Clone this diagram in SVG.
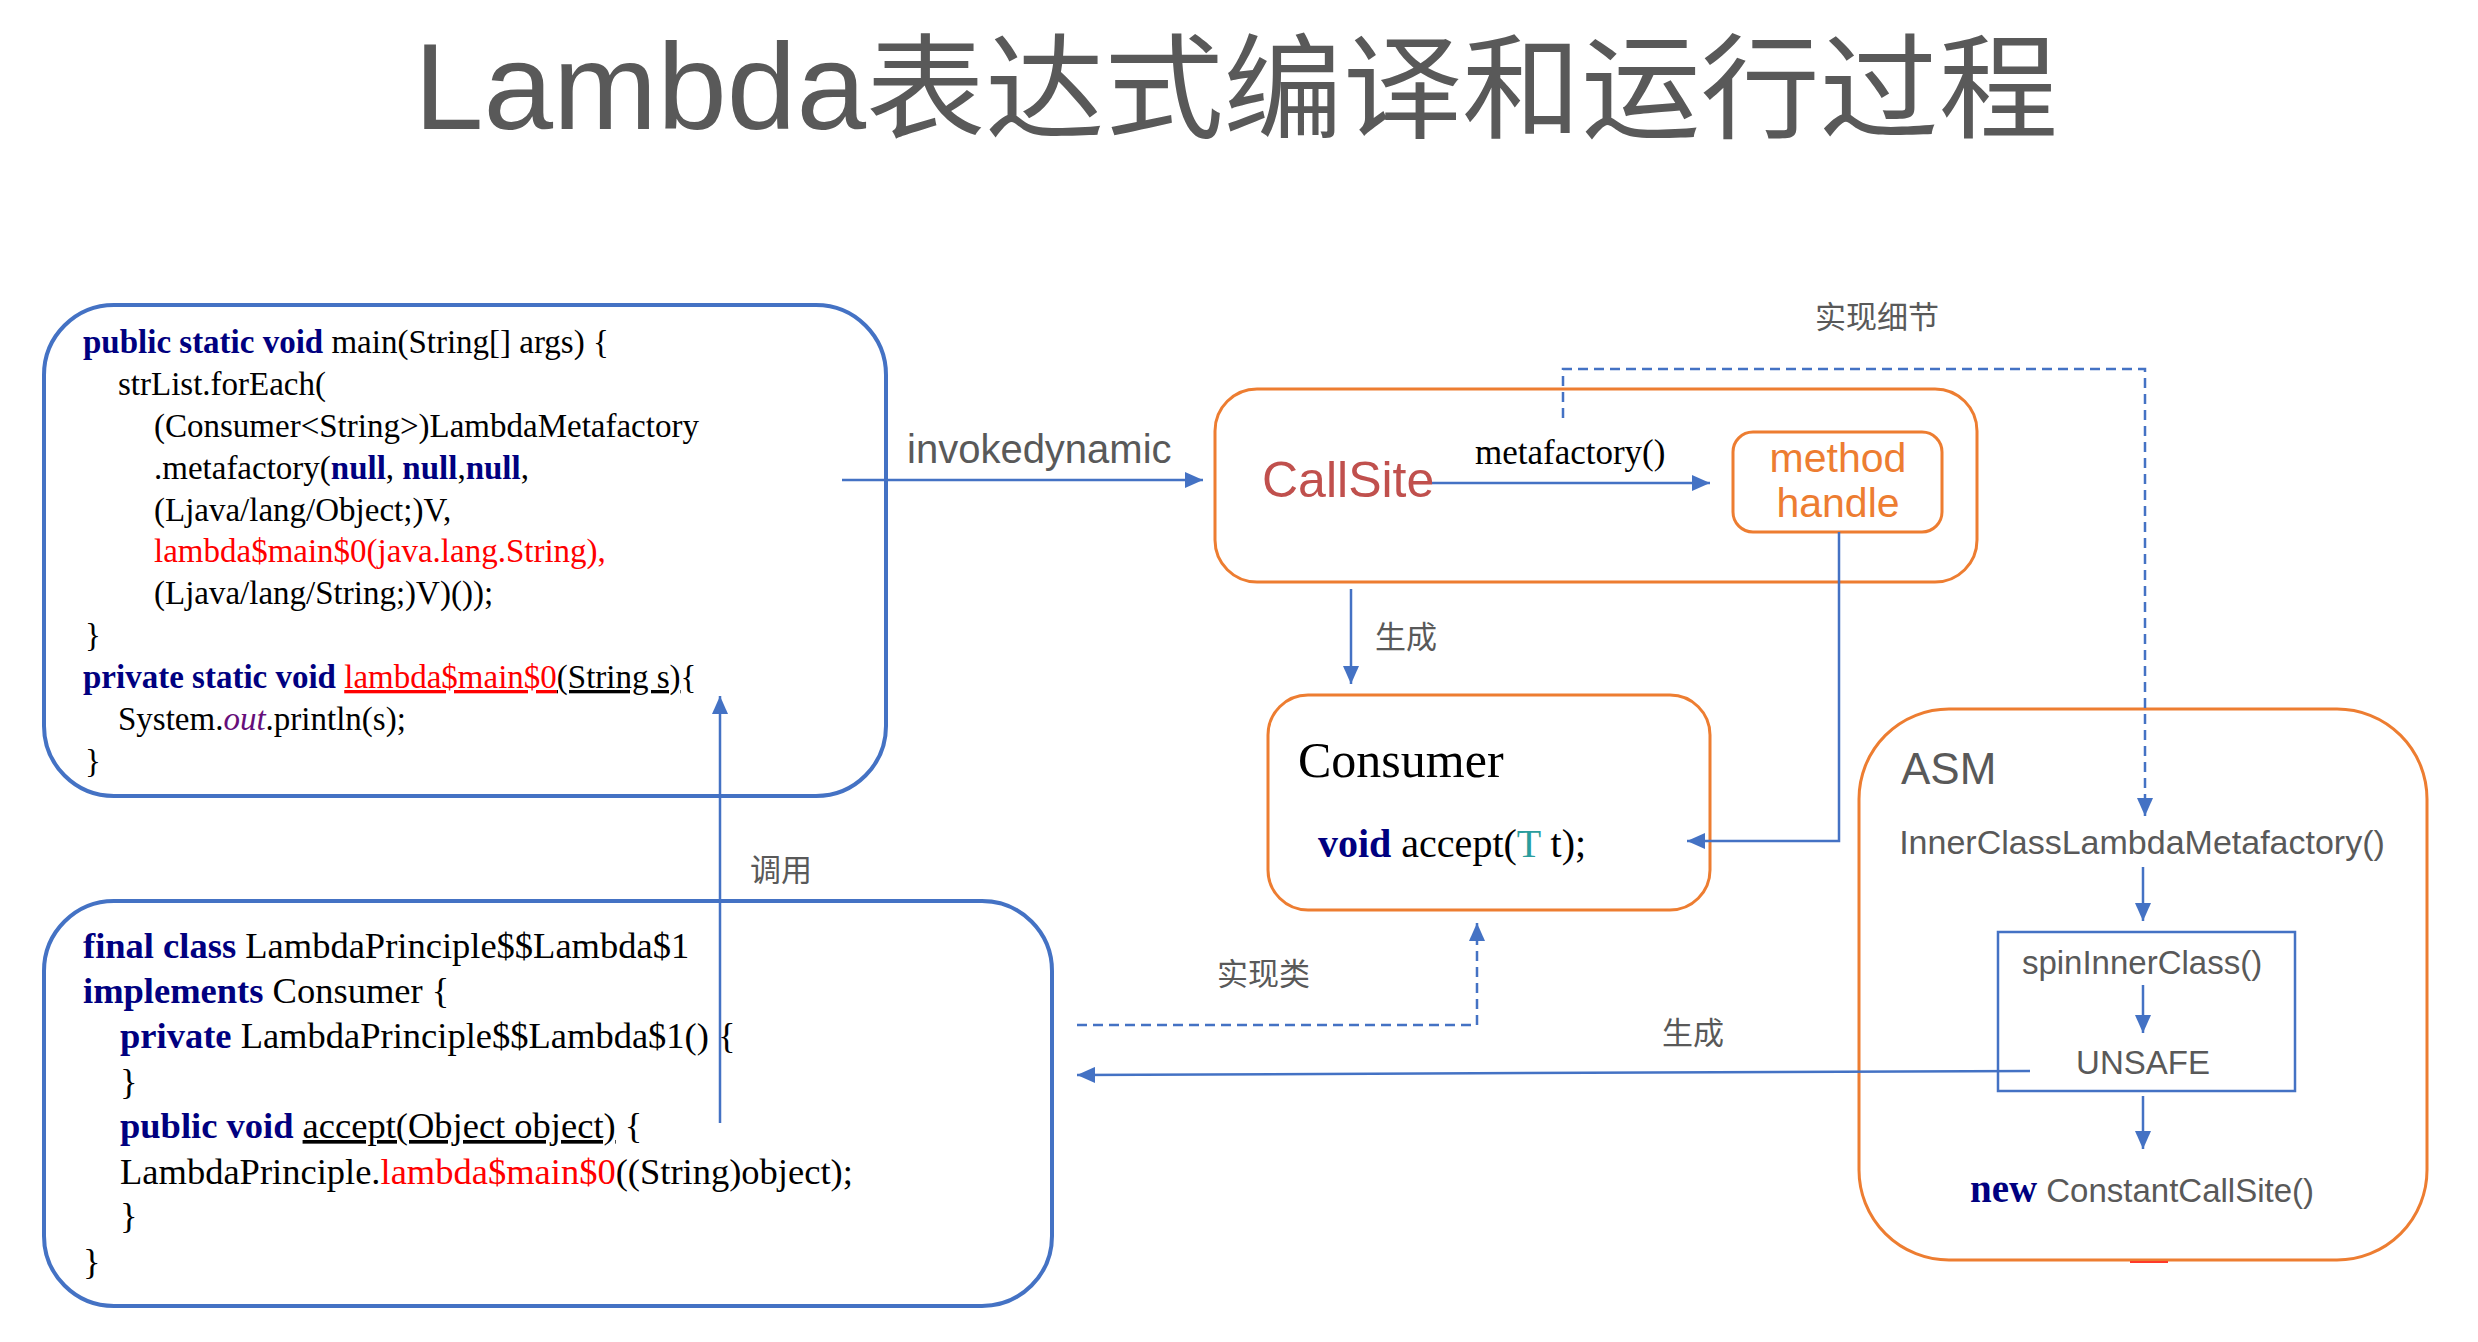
<svg xmlns="http://www.w3.org/2000/svg" width="2478" height="1342" viewBox="0 0 2478 1342">
<defs>
<marker id="arr" viewBox="0 0 18 16" refX="18" refY="8" markerWidth="18" markerHeight="16" markerUnits="userSpaceOnUse" orient="auto">
<path d="M0,0 L18,8 L0,16 z" fill="#4472C4"/>
</marker>
<style>
.bg{fill:#fff}
.code1{font-family:"Liberation Serif","Times New Roman",serif;font-size:33px;fill:#000}
.code2{font-family:"Liberation Serif","Times New Roman",serif;font-size:36.5px;fill:#000}
.kw{fill:#000080;font-weight:bold}
.red{fill:#FF0000}
.sans{font-family:"Liberation Sans",Arial,"Noto Sans CJK SC",sans-serif}
.lbl{font-family:"Noto Sans CJK SC","Liberation Sans",sans-serif;font-size:31px;fill:#595959}
.gray{fill:#595959}
.bluebox{fill:none;stroke:#4472C4;stroke-width:4}
.orbox{fill:none;stroke:#ED7D31;stroke-width:3}
.conn{fill:none;stroke:#4472C4;stroke-width:2.5}
.dash{stroke-dasharray:10 6}
</style>
</defs>
<rect class="bg" width="2478" height="1342"/>

<text y="129" font-family="'Liberation Sans','Noto Sans CJK SC',sans-serif" fill="#595959"><tspan x="414" font-size="122" textLength="452" lengthAdjust="spacingAndGlyphs">Lambda</tspan><tspan x="866" font-family="'Noto Sans CJK SC',sans-serif" font-size="114" textLength="1192" lengthAdjust="spacingAndGlyphs">表达式编译和运行过程</tspan></text>

<g id="main-code">
<rect class="bluebox" x="44" y="305" width="842" height="491" rx="70" ry="70"/>
<text class="code1" x="83" y="353"><tspan class="kw">public static void</tspan> main(String[] args) {</text>
<text class="code1" x="118" y="395">strList.forEach(</text>
<text class="code1" x="154" y="437">(Consumer&lt;String&gt;)LambdaMetafactory</text>
<text class="code1" x="154" y="479">.metafactory(<tspan class="kw">null</tspan>, <tspan class="kw">null</tspan>,<tspan class="kw">null</tspan>,</text>
<text class="code1" x="154" y="521">(Ljava/lang/Object;)V,</text>
<text class="code1 red" x="154" y="562">lambda$main$0(java.lang.String),</text>
<text class="code1" x="154" y="604">(Ljava/lang/String;)V)());</text>
<text class="code1" x="85" y="646">}</text>
<text class="code1" x="83" y="688"><tspan class="kw">private static void</tspan> <tspan class="red" text-decoration="underline">lambda$main$0</tspan><tspan text-decoration="underline">(String s)</tspan>{</text>
<text class="code1" x="118" y="730">System.<tspan fill="#660E7A" font-style="italic">out</tspan>.println(s);</text>
<text class="code1" x="85" y="772">}</text>
</g>

<g id="lambda-class">
<rect class="bluebox" x="44" y="901" width="1008" height="405" rx="70" ry="70"/>
<text class="code2" x="83" y="958"><tspan class="kw">final class</tspan> LambdaPrinciple$$Lambda$1</text>
<text class="code2" x="83" y="1003"><tspan class="kw">implements</tspan> Consumer {</text>
<text class="code2" x="120" y="1048"><tspan class="kw">private</tspan> LambdaPrinciple$$Lambda$1() {</text>
<text class="code2" x="120" y="1094">}</text>
<text class="code2" x="120" y="1138"><tspan class="kw">public void</tspan> <tspan text-decoration="underline">accept(Object object)</tspan> {</text>
<text class="code2" x="120" y="1184">LambdaPrinciple.<tspan class="red">lambda$main$0</tspan>((String)object);</text>
<text class="code2" x="120" y="1228">}</text>
<text class="code2" x="83" y="1274">}</text>
</g>

<g id="callsite">
<rect class="orbox" x="1215" y="389" width="762" height="193" rx="42" ry="42"/>
<text class="sans" x="1262" y="497" font-size="50" fill="#C0504D">CallSite</text>
<text x="1475" y="464" font-family="'Liberation Serif',serif" font-size="35" fill="#000">metafactory()</text>
</g>

<g id="method-handle">
<rect class="orbox" x="1733" y="432" width="209" height="100" rx="20" ry="20"/>
<text class="sans" x="1838" y="472" font-size="41" fill="#ED7D31" text-anchor="middle">method</text>
<text class="sans" x="1838" y="517" font-size="41" fill="#ED7D31" text-anchor="middle">handle</text>
</g>

<g id="consumer">
<rect class="orbox" x="1268" y="695" width="442" height="215" rx="40" ry="40"/>
<text x="1298" y="777" font-family="'Liberation Serif',serif" font-size="50" fill="#000">Consumer</text>
<text x="1318" y="857" font-family="'Liberation Serif',serif" font-size="40" fill="#000"><tspan class="kw">void</tspan> accept(<tspan fill="#2A9D9D">T</tspan> t);</text>
</g>

<g id="asm">
<rect class="orbox" x="1859" y="709" width="568" height="551" rx="90" ry="90"/>
<path d="M2130,1262 L2168,1262" stroke="#FF3A2A" stroke-width="2"/>
<text class="sans gray" x="1901" y="784" font-size="44">ASM</text>
<text class="sans gray" x="2142" y="854" font-size="34" text-anchor="middle">InnerClassLambdaMetafactory()</text>
<text class="sans gray" x="2142" y="1202" font-size="33" text-anchor="middle"><tspan font-family="'Liberation Serif',serif" font-weight="bold" fill="#000080" font-size="39">new</tspan> ConstantCallSite()</text>
</g>

<g id="spin-inner-class">
<rect x="1998" y="932" width="297" height="159" fill="none" stroke="#4472C4" stroke-width="2.5"/>
<text class="sans gray" x="2142" y="974" font-size="33" text-anchor="middle">spinInnerClass()</text>
<text class="sans gray" x="2143" y="1074" font-size="33" text-anchor="middle">UNSAFE</text>
</g>

<g id="connectors">
<line class="conn" x1="842" y1="480" x2="1203" y2="480" marker-end="url(#arr)"/>
<text class="sans gray" x="907" y="463" font-size="40">invokedynamic</text>
<line class="conn" x1="1432" y1="483" x2="1710" y2="483" marker-end="url(#arr)"/>
<polyline class="conn dash" points="1563,418 1563,369 2145,369 2145,816" marker-end="url(#arr)"/>
<text class="lbl" x="1815" y="328">实现细节</text>
<line class="conn" x1="1351" y1="589" x2="1351" y2="684" marker-end="url(#arr)"/>
<text class="lbl" x="1375" y="648">生成</text>
<polyline class="conn" points="1839,532 1839,841 1687,841" marker-end="url(#arr)"/>
<line class="conn" x1="720" y1="1123" x2="720" y2="696" marker-end="url(#arr)"/>
<text class="lbl" x="750" y="881">调用</text>
<polyline class="conn dash" points="1077,1025 1477,1025 1477,923" marker-end="url(#arr)"/>
<text class="lbl" x="1217" y="985">实现类</text>
<line class="conn" x1="2030" y1="1071" x2="1077" y2="1075" marker-end="url(#arr)"/>
<text class="lbl" x="1662" y="1044">生成</text>
<line class="conn" x1="2143" y1="867" x2="2143" y2="921" marker-end="url(#arr)"/>
<line class="conn" x1="2143" y1="985" x2="2143" y2="1033" marker-end="url(#arr)"/>
<line class="conn" x1="2143" y1="1096" x2="2143" y2="1149" marker-end="url(#arr)"/>
</g>
</svg>
